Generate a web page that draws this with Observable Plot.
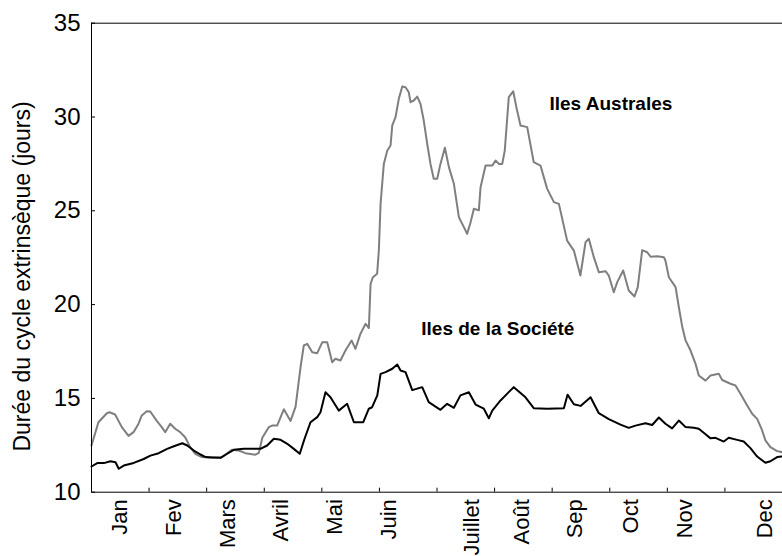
<!DOCTYPE html>
<html>
<head>
<meta charset="utf-8">
<script src="https://cdn.jsdelivr.net/npm/d3@7"></script>
<script src="https://cdn.jsdelivr.net/npm/@observablehq/plot@0.6"></script>
<style>
  html, body { margin: 0; padding: 0; background: #fff; }
  #chart svg { display: block; }
</style>
</head>
<body>
<div id="chart"></div>
<script>
// Month labels and their positions (day of year on a 360-day axis)
const monthNames = ["Jan", "Fev", "Mars", "Avril", "Mai", "Juin", "Juillet", "Août", "Sep", "Oct", "Nov", "Dec"];
const monthPos   = [15, 43, 71, 98.5, 127, 155, 198, 224.5, 252, 281, 309, 351];
const xTicks = [0, 30, 60, 90, 120, 150, 180, 210, 240, 270, 300, 330, 360];
const yTicks = [10, 15, 20, 25, 30, 35];

// Iles Australes (grey)
const australesDay = [0, 3.6, 8, 9.4, 12.3, 15.8, 19.3, 21.9, 24.5, 26.2, 28.8, 30.6, 34, 36.6, 38.4, 41, 43.6, 46.2, 48.8, 51.4, 54, 57.5, 61, 67.7, 71.4, 73.1, 76.7, 80.2, 85.4, 87.2, 89, 92.4, 94.1, 96.7, 100.2, 103.7, 106.3, 108.9, 110.6, 112.4, 115, 117.6, 120.2, 122.8, 125.4, 127.1, 129.7, 132.3, 135.5, 137.5, 140.1, 142.8, 144.5, 145.4, 146.6, 148.8, 149.7, 150.6, 152.3, 154.1, 155.8, 156.7, 158.4, 160.1, 161.9, 163.6, 165.3, 166.2, 167.9, 169.7, 171.4, 173.1, 174.9, 176.6, 178.3, 180.1, 181.8, 184.1, 186.2, 188.8, 191.4, 194, 195.7, 197.5, 199.2, 201.8, 202.7, 205.3, 208.8, 210.5, 212.2, 214, 215.3, 217.4, 219.7, 221.4, 223.5, 227, 230.4, 233.9, 237.4, 240.9, 243.5, 247.8, 251.3, 254.7, 257.4, 259.1, 261.7, 264.3, 267.8, 269.5, 272.1, 273.9, 277, 279.9, 282.9, 284.6, 286.9, 289.5, 291.3, 294.7, 298.2, 299, 300.8, 304.3, 306, 307.8, 309.5, 312.1, 314.7, 316.4, 319.9, 322.5, 326.8, 328.6, 332.9, 335.5, 338.1, 341.6, 344.2, 346.8, 349.4, 351.1, 353.7, 357.2, 360];
const australesValue = [12.49, 13.73, 14.21, 14.26, 14.14, 13.47, 13.0, 13.2, 13.65, 14.09, 14.32, 14.3, 13.8, 13.47, 13.2, 13.65, 13.38, 13.2, 12.93, 12.4, 12.05, 11.87, 11.85, 11.85, 12.13, 12.26, 12.22, 12.08, 12.0, 12.1, 12.9, 13.47, 13.55, 13.55, 14.42, 13.8, 14.55, 16.66, 17.82, 17.91, 17.46, 17.41, 17.99, 17.99, 16.93, 17.11, 17.02, 17.55, 18.09, 17.64, 18.44, 18.98, 18.75, 21.11, 21.46, 21.64, 22.88, 25.37, 27.5, 28.21, 28.48, 29.55, 29.99, 30.97, 31.63, 31.59, 31.32, 30.79, 30.88, 31.09, 30.7, 29.81, 28.57, 27.5, 26.71, 26.71, 27.5, 28.36, 27.33, 26.44, 24.66, 24.13, 23.77, 24.39, 25.11, 25.02, 26.26, 27.41, 27.41, 27.68, 27.5, 27.5, 28.21, 31.06, 31.37, 30.5, 29.55, 29.46, 27.59, 27.41, 26.17, 25.46, 25.37, 23.41, 22.88, 21.55, 23.33, 23.51, 22.53, 21.73, 21.78, 21.55, 20.66, 21.2, 21.82, 20.75, 20.43, 20.93, 22.9, 22.79, 22.55, 22.58, 22.53, 22.35, 21.46, 20.93, 19.86, 18.8, 18.09, 17.55, 16.84, 16.22, 15.95, 16.22, 16.31, 15.98, 15.78, 15.69, 15.25, 14.62, 14.18, 13.91, 13.29, 12.76, 12.4, 12.19, 12.13];

// Iles de la Société (black)
const societeDay = [0, 3, 6.4, 9.9, 12.5, 14.2, 16.8, 22, 27.2, 30.7, 35, 39.4, 42.9, 47.3, 49.9, 53.3, 56.8, 59.4, 62.9, 67.2, 70.7, 74.1, 79.3, 84.6, 88, 91.5, 95, 98.5, 102, 105.4, 108.5, 111, 114.1, 117.6, 119.3, 121.9, 124.5, 128.8, 133.2, 136.7, 141.6, 144.5, 146.2, 148.9, 150.6, 153.2, 156.7, 159.3, 161, 163.6, 167.1, 172.3, 175.7, 181.8, 185.3, 188.8, 192.2, 196.6, 200.1, 204.4, 207, 208.8, 213.1, 220, 226.1, 230.4, 237.4, 246.1, 248, 251.3, 254.8, 260, 264.3, 269.5, 275.6, 279.9, 283.4, 288.6, 292.1, 295.6, 299, 302.5, 306, 309.5, 313.8, 316.4, 319.9, 322.5, 325.1, 329.4, 332, 336.4, 339.8, 343.3, 346.8, 351.1, 353.7, 357.2, 360];
const societeValue = [11.37, 11.55, 11.55, 11.65, 11.6, 11.25, 11.42, 11.56, 11.77, 11.95, 12.08, 12.31, 12.45, 12.61, 12.49, 12.22, 12.01, 11.87, 11.85, 11.83, 12.05, 12.26, 12.31, 12.31, 12.31, 12.49, 12.85, 12.79, 12.58, 12.31, 12.05, 12.85, 13.73, 14.0, 14.26, 15.33, 15.06, 14.35, 14.71, 13.73, 13.73, 14.45, 14.53, 15.16, 16.31, 16.4, 16.58, 16.81, 16.49, 16.4, 15.44, 15.6, 14.8, 14.39, 14.71, 14.5, 15.16, 15.33, 14.67, 14.45, 13.94, 14.35, 14.89, 15.6, 15.06, 14.48, 14.45, 14.47, 15.2, 14.69, 14.6, 15.06, 14.21, 13.9, 13.6, 13.43, 13.55, 13.68, 13.58, 13.98, 13.65, 13.4, 13.82, 13.47, 13.43, 13.38, 13.09, 12.87, 12.9, 12.7, 12.9, 12.79, 12.7, 12.35, 11.9, 11.57, 11.65, 11.87, 11.9];

const yTitle = "Durée du cycle extrinsèque (jours)";
const annotations = [
  {text: "Iles Australes", day: 238.6, value: 30.72},
  {text: "Iles de la Société", day: 171.8, value: 18.7}
];
const yTitlePos = 21.5;

const australes = australesDay.map((d, i) => ({day: d, value: australesValue[i]}));
const societe = societeDay.map((d, i) => ({day: d, value: societeValue[i]}));
const months = monthNames.map((m, i) => ({name: m, day: monthPos[i]}));

const W = 782, H = 556;
const mL = 91, mT = 22.7, mB = 64.3, mR = 0;
const plotW = W - mL - mR, plotH = H - mT - mB;
const font = "'Liberation Sans', Arial, Helvetica, sans-serif";

const chart = Plot.plot({
  width: W,
  height: H,
  marginLeft: mL,
  marginTop: mT,
  marginBottom: mB,
  marginRight: mR,
  style: {fontFamily: font, background: "#fff", color: "#000"},
  x: {domain: [0, 360], axis: null},
  y: {domain: [10, 35], axis: null},
  marks: [
    Plot.line(australes, {x: "day", y: "value", stroke: "#7f7f7f", strokeWidth: 2}),
    Plot.line(societe, {x: "day", y: "value", stroke: "#000", strokeWidth: 2}),
    // frame (left, top, bottom)
    Plot.ruleX([0], {stroke: "#000", strokeWidth: 1}),
    Plot.ruleY([10, 35], {stroke: "#000", strokeWidth: 1}),
    // inward ticks
    Plot.tickY(yTicks, {y: d => d, insetRight: plotW - 4, stroke: "#000"}),
    Plot.tickX(xTicks, {x: d => d, insetTop: plotH - 4, stroke: "#000"}),
    // y tick labels
    Plot.text(yTicks, {y: d => d, text: d => String(d), frameAnchor: "left", textAnchor: "end", dx: -11, fontSize: 24, fill: "#000"}),
    // month labels
    Plot.text(months, {x: "day", text: "name", frameAnchor: "bottom", rotate: -90, textAnchor: "end", lineAnchor: "middle", dy: 7, fontSize: 22, fill: "#000"}),
    // y title
    Plot.text([yTitle], {text: d => d, y: () => yTitlePos, frameAnchor: "left", rotate: -90, textAnchor: "middle", lineAnchor: "middle", dx: -69, fontSize: 23, fill: "#000"}),
    // annotations
    Plot.text(annotations, {x: "day", y: "value", text: "text", textAnchor: "start", lineAnchor: "middle", fontWeight: "bold", fontSize: 19, fill: "#000"})
  ]
});

document.getElementById("chart").appendChild(chart);
</script>
</body>
</html>
